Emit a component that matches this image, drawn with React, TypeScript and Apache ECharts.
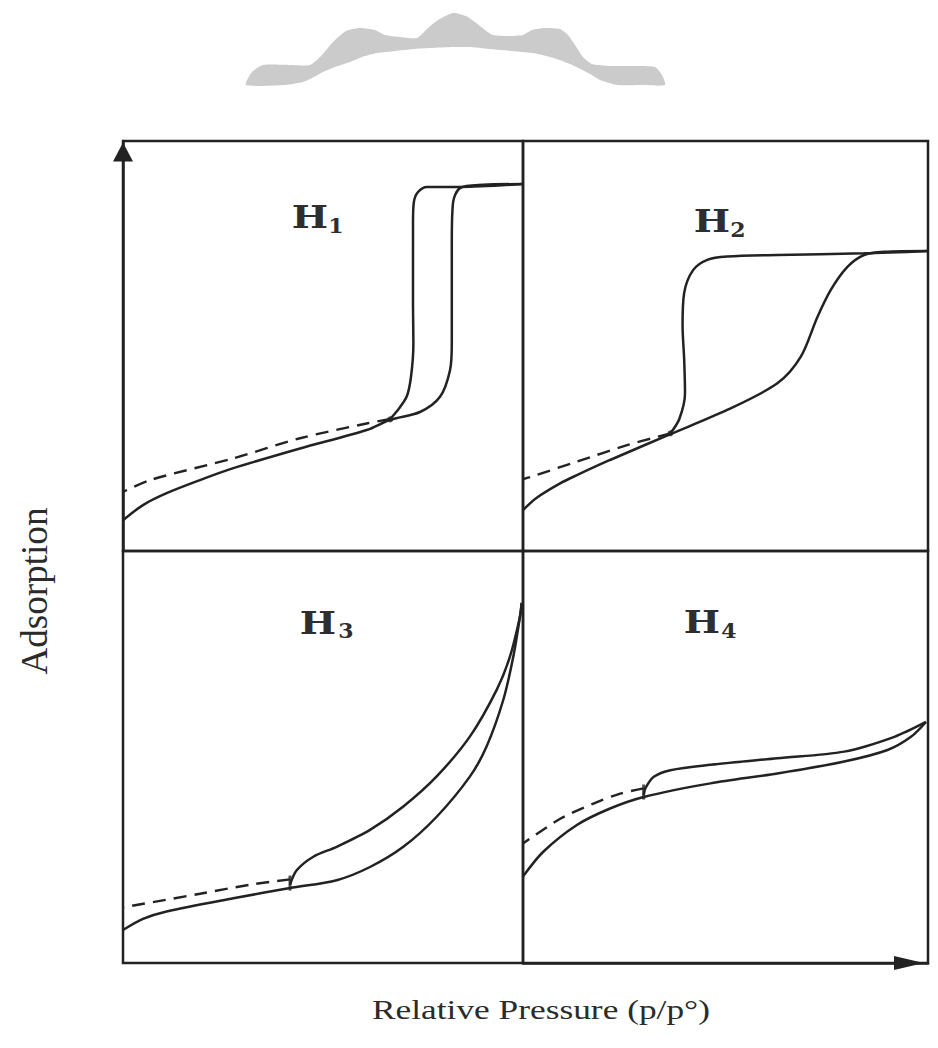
import React, { useEffect, useRef } from "react";
import * as echarts from "echarts";

// Hysteresis loop types (IUPAC H1–H4): normalised relative pressure (x) vs adsorbed amount (y)
const panelNames = ["1", "2", "3", "4"];

const h1Adsorption = [
  [0, 0.075], [0.05, 0.112], [0.109, 0.141], [0.1925, 0.173], [0.276, 0.202], [0.4425, 0.25],
  [0.609, 0.295], [0.668, 0.32], [0.7425, 0.339], [0.7925, 0.376], [0.8175, 0.441],
  [0.822, 0.507], [0.822, 0.751], [0.825, 0.849], [0.8425, 0.885], [0.9, 0.893], [1.0, 0.895],
];
const h1Desorption = [
  [1.0, 0.895], [0.8425, 0.888], [0.76, 0.888], [0.737, 0.875], [0.727, 0.85], [0.725, 0.8],
  [0.725, 0.6], [0.726, 0.507], [0.72, 0.425], [0.709, 0.376], [0.684, 0.34], [0.668, 0.322],
];
const h1LowPressure = [
  [0.668, 0.322], [0.609, 0.311], [0.4425, 0.275], [0.276, 0.226], [0.0675, 0.173], [0, 0.144],
];

const h2Adsorption = [
  [0, 0.1], [0.034, 0.13], [0.0916, 0.165], [0.133, 0.185], [0.215, 0.222], [0.364, 0.285],
  [0.504, 0.344], [0.628, 0.409], [0.686, 0.474], [0.727, 0.571], [0.76, 0.637], [0.801, 0.693],
  [0.842, 0.722], [0.892, 0.73], [1.0, 0.732],
];
const h2Desorption = [
  [1.0, 0.732], [0.842, 0.726], [0.628, 0.722], [0.504, 0.718], [0.455, 0.71], [0.42, 0.685],
  [0.398, 0.63], [0.394, 0.55], [0.398, 0.466], [0.4, 0.385], [0.386, 0.322], [0.364, 0.287],
];
const h2LowPressure = [
  [0.364, 0.287], [0.257, 0.258], [0.133, 0.218], [0.017, 0.18], [0, 0.175],
];

const h3Adsorption = [
  [0, 0.08], [0.05, 0.107], [0.109, 0.125], [0.276, 0.157], [0.4175, 0.182], [0.5342, 0.201],
  [0.6175, 0.233], [0.7008, 0.282], [0.7842, 0.355], [0.8675, 0.453], [0.9092, 0.526],
  [0.9508, 0.639], [0.9758, 0.744], [0.9925, 0.841], [0.9967, 0.874],
];
const h3Desorption = [
  [0.9967, 0.874], [0.9925, 0.841], [0.9675, 0.744], [0.9342, 0.663], [0.8675, 0.55],
  [0.7842, 0.453], [0.7008, 0.38], [0.6175, 0.323], [0.5342, 0.282], [0.4758, 0.258],
  [0.4342, 0.225], [0.4175, 0.19],
];
const h3LowPressure = [
  [0.4175, 0.203], [0.3175, 0.19], [0.1925, 0.168], [0, 0.135],
];

const h4Adsorption = [
  [0, 0.21], [0.05, 0.27], [0.133, 0.335], [0.215, 0.375], [0.298, 0.403], [0.463, 0.436],
  [0.628, 0.46], [0.793, 0.489], [0.9, 0.517], [0.958, 0.549], [0.995, 0.585],
];
const h4Desorption = [
  [0.995, 0.585], [0.917, 0.549], [0.793, 0.513], [0.628, 0.497], [0.463, 0.481],
  [0.364, 0.468], [0.323, 0.452], [0.302, 0.424], [0.298, 0.408],
];
const h4LowPressure = [
  [0.298, 0.424], [0.24, 0.411], [0.174, 0.387], [0.092, 0.35], [0, 0.29],
];

// points where the low-pressure branch meets the loop closure
const closurePoints = [
  [0.668, 0.321],
  [0.364, 0.287],
  [0.4175, 0.194],
  [0.298, 0.415],
];

const panels = [
  { adsorption: h1Adsorption, desorption: h1Desorption, lowPressure: h1LowPressure },
  { adsorption: h2Adsorption, desorption: h2Desorption, lowPressure: h2LowPressure },
  { adsorption: h3Adsorption, desorption: h3Desorption, lowPressure: h3LowPressure },
  { adsorption: h4Adsorption, desorption: h4Desorption, lowPressure: h4LowPressure },
];

const xAxisTitle = "Relative Pressure (p/p°)";
const yAxisTitle = "Adsorption";

// decorative grey ribbon above the figure
const ribbon = [
  [246, 85], [252, 72], [263, 65], [290, 65], [310, 65], [322, 55], [333, 42], [346, 31],
  [360, 28], [375, 30], [385, 35], [400, 37], [417, 38], [428, 28], [438, 20], [453, 13],
  [466, 16], [475, 22], [485, 30], [493, 35], [510, 36], [523, 35], [532, 30], [545, 28],
  [560, 29], [568, 35], [575, 45], [583, 57], [592, 64], [610, 66], [640, 66], [655, 67],
  [662, 75], [665, 85], [640, 85], [617, 85], [600, 80], [590, 74], [570, 64], [550, 57],
  [533, 53], [500, 50], [470, 47], [453, 47], [430, 48], [413, 49], [395, 51], [377, 53],
  [362, 57], [350, 62], [335, 67], [323, 72], [312, 78], [303, 82], [285, 85],
];

const INK = "#222";
const TITLE_FONT = "'Liberation Serif', 'Times New Roman', Times, serif";

// horizontal stretch so a title spans the given width
function titleScale(text: string, size: number, target: number) {
  const ctx = document.createElement("canvas").getContext("2d");
  if (!ctx) return 1;
  ctx.font = `${size}px ${TITLE_FONT}`;
  const w = ctx.measureText(text).width;
  return w > 0 ? target / w : 1;
}

export default function App() {
  const ref = useRef<HTMLDivElement>(null);

  useEffect(() => {
    if (!ref.current) return;
    const chart = echarts.init(ref.current, undefined, { renderer: "svg" });

    const grids = [
      { left: 123, top: 141, width: 400, height: 410 },
      { left: 523, top: 141, width: 405, height: 410 },
      { left: 123, top: 551, width: 400, height: 412 },
      { left: 523, top: 551, width: 405, height: 412 },
    ].map((g) => ({
      ...g,
      show: true,
      borderColor: INK,
      borderWidth: 2.5,
      backgroundColor: "transparent",
    }));

    const hidden = {
      axisLabel: { show: false },
      axisTick: { show: false },
      splitLine: { show: false },
    };

    const xAxis = grids.map((_, i) => ({
      type: "value",
      gridIndex: i,
      min: 0,
      max: 1,
      ...hidden,
      axisLine:
        i === 3
          ? {
              show: true,
              symbol: ["none", "triangle"],
              symbolSize: [14, 30],
              symbolOffset: [0, -19],
              lineStyle: { color: INK, width: 2.5 },
            }
          : { show: false },
    }));

    const yAxis = grids.map((_, i) => ({
      type: "value",
      gridIndex: i,
      min: 0,
      max: 1,
      ...hidden,
      axisLine:
        i === 0
          ? {
              show: true,
              symbol: ["none", "triangle"],
              symbolSize: [20, 19],
              symbolOffset: [0, -11],
              lineStyle: { color: INK, width: 2.5 },
            }
          : { show: false },
    }));

    const series: any[] = [];
    panels.forEach((p, i) => {
      const base = {
        type: "line",
        xAxisIndex: i,
        yAxisIndex: i,
        showSymbol: false,
        smooth: 0.3,
        smoothMonotone: "none",
        silent: true,
      };
      series.push({ ...base, name: `H${panelNames[i]} adsorption`, data: p.adsorption, lineStyle: { color: INK, width: 2.5 } });
      series.push({ ...base, name: `H${panelNames[i]} desorption`, data: p.desorption, lineStyle: { color: INK, width: 2.5 } });
      series.push({
        ...base,
        name: `H${panelNames[i]} low pressure`,
        data: p.lowPressure,
        lineStyle: { color: INK, width: 2.4, type: [13, 8] },
      });
      series.push({
        type: "scatter",
        name: `H${panelNames[i]} closure`,
        xAxisIndex: i,
        yAxisIndex: i,
        silent: true,
        data: [closurePoints[i]],
        symbol: i < 2 ? "circle" : "rect",
        symbolSize: i < 2 ? 6 : [3, 15],
        itemStyle: { color: INK },
      });
    });

    // panel labels: H with subscript index
    const labelPos = [
      { hx: 310, hy: 217, sx: 336, sy: 226 },
      { hx: 712, hy: 221, sx: 738, sy: 230 },
      { hx: 318, hy: 623, sx: 346, sy: 631 },
      { hx: 702, hy: 622, sx: 729, sy: 631 },
    ];
    const labelFont = "DejaVu Serif";
    const panelLabels = labelPos.flatMap((l, i) => [
      {
        type: "text",
        x: l.hx,
        y: l.hy,
        scaleX: 1.2,
        style: {
          text: "H",
          fontFamily: labelFont,
          fontWeight: "bold",
          fontSize: 32,
          fill: "#2e2e2e",
          align: "center",
          verticalAlign: "middle",
        },
      },
      {
        type: "text",
        x: l.sx,
        y: l.sy,
        scaleX: 1.1,
        style: {
          text: panelNames[i],
          fontFamily: labelFont,
          fontWeight: "bold",
          fontSize: 20,
          fill: "#2e2e2e",
          align: "center",
          verticalAlign: "middle",
        },
      },
    ]);

    chart.setOption({
      animation: false,
      backgroundColor: "#fff",
      grid: grids,
      xAxis,
      yAxis,
      series,
      graphic: [
        {
          type: "polygon",
          shape: { points: ribbon, smooth: 0.2 },
          style: { fill: "#cbcbcb", stroke: "none" },
          silent: true,
        },
        ...panelLabels,
        {
          type: "text",
          x: 541,
          y: 1010,
          scaleX: titleScale(xAxisTitle, 27, 338),
          style: {
            text: xAxisTitle,
            fontFamily: TITLE_FONT,
            fontSize: 27,
            fill: "#2b2b2b",
            align: "center",
            verticalAlign: "middle",
          },
        },
        {
          type: "text",
          x: 35,
          y: 591,
          rotation: Math.PI / 2,
          scaleX: titleScale(yAxisTitle, 37, 167),
          style: {
            text: yAxisTitle,
            fontFamily: TITLE_FONT,
            fontSize: 37,
            fill: "#2b2b2b",
            align: "center",
            verticalAlign: "middle",
          },
        },
      ],
    });

    return () => chart.dispose();
  }, []);

  return (
    <div
      ref={ref}
      style={{ position: "absolute", left: 0, top: 0, width: 938, height: 1048 }}
    />
  );
}
